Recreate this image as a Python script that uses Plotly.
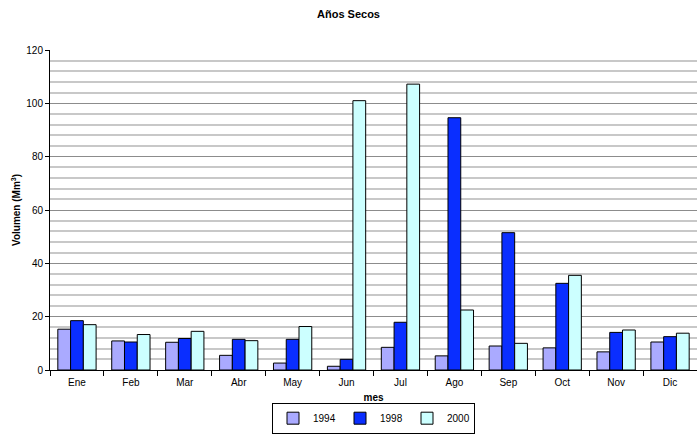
import plotly.graph_objects as go

meses = ['Ene', 'Feb', 'Mar', 'Abr', 'May', 'Jun', 'Jul', 'Ago', 'Sep', 'Oct', 'Nov', 'Dic']

v1994 = [15.3, 10.9, 10.4, 5.5, 2.6, 1.4, 8.5, 5.3, 9.0, 8.3, 6.8, 10.5]
v1998 = [18.5, 10.5, 11.8, 11.5, 11.5, 4.0, 17.9, 94.6, 51.5, 32.5, 14.1, 12.5]
v2000 = [17.0, 13.3, 14.5, 11.0, 16.3, 101.0, 107.2, 22.5, 10.0, 35.5, 15.0, 13.8]

font = 'Liberation Sans, Arial, sans-serif'

fig = go.Figure()
for name, vals, color in [('1994', v1994, '#AAAAFF'),
                          ('1998', v1998, '#0A2EFF'),
                          ('2000', v2000, '#CCFFFF')]:
    fig.add_trace(go.Bar(x=meses, y=vals, name=name,
                         marker=dict(color=color, line=dict(color='black', width=1))))

fig.update_layout(
    width=697, height=435,
    margin=dict(l=50, r=0, t=50, b=65, autoexpand=False),
    paper_bgcolor='white', plot_bgcolor='white',
    font=dict(family=font, size=10, color='black'),
    title=dict(text='<b>Años Secos</b>', x=0.5, xanchor='center',
               y=0.967, yanchor='middle', yref='container',
               font=dict(size=11)),
    barmode='group', bargap=0.29, bargroupgap=0,
    showlegend=True,
    legend=dict(orientation='h', x=0.5, xanchor='center',
                y=0.003, yanchor='bottom', yref='container',
                bordercolor='black', borderwidth=1, font=dict(size=10),
                itemwidth=30, entrywidth=22, entrywidthmode='pixels',
                tracegroupgap=0),
)

fig.update_xaxes(
    title=dict(text='<b>mes</b>', font=dict(size=10), standoff=10),
    showline=True, linecolor='black', linewidth=1,
    ticks='outside', ticklen=5, tickcolor='black', tickson='boundaries',
    ticklabelstandoff=3,
    showgrid=False, tickfont=dict(size=10),
)

fig.update_yaxes(
    title=dict(text='<b>Volumen (Mm<sup>3</sup>)</b>', font=dict(size=10), standoff=3),
    range=[0, 120], dtick=20, tick0=0,
    showline=True, linecolor='black', linewidth=1,
    ticks='outside', ticklen=4, tickcolor='black',
    showgrid=True, gridcolor='#8c8c8c', gridwidth=1,
    minor=dict(dtick=4, showgrid=True, gridcolor='#c8c8c8', gridwidth=2),
    tickfont=dict(size=10), zeroline=False,
)

fig.write_html('out.html', config={'displayModeBar': False},
               post_script="document.body.style.margin='0px';")
